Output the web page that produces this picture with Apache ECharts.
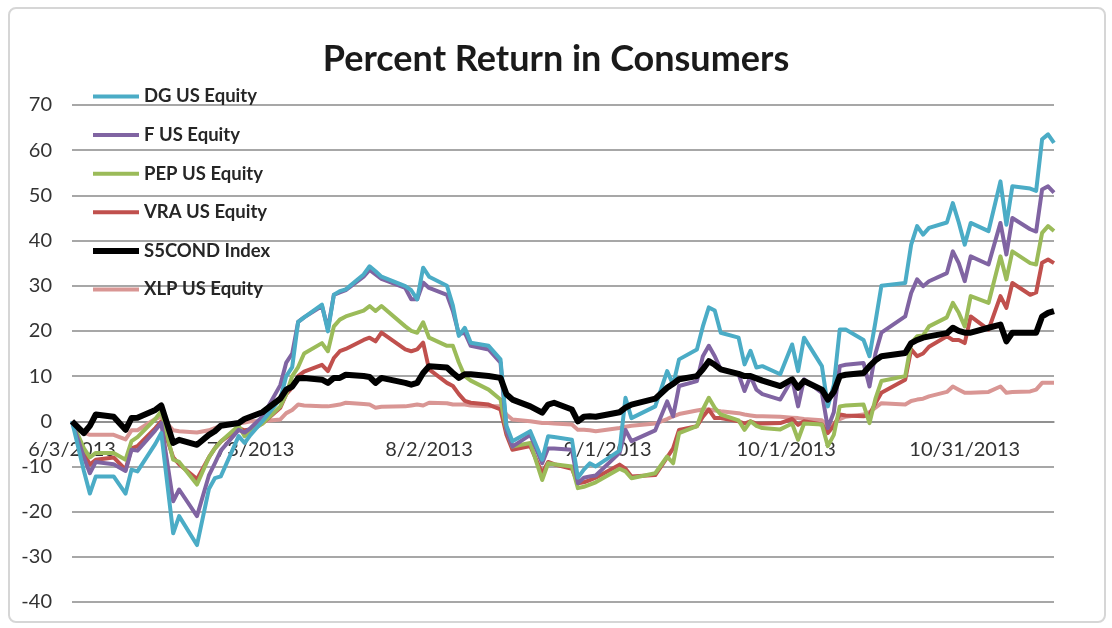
<!DOCTYPE html>
<html lang="en">

<head>
    <meta charset="UTF-8">
    <title>Percent Return in Consumers</title>
    <script src="https://cdn.jsdelivr.net/npm/echarts@6/dist/echarts.min.js"></script>
    <style>
        html, body {
            margin: 0;
            padding: 0;
            background: #fff;
        }

        #frame {
            position: absolute;
            left: 8px;
            top: 7px;
            width: 1094px;
            height: 612px;
            border: 2px solid #d6d6d6;
            border-radius: 8px;
        }

        #chart {
            position: absolute;
            left: 0;
            top: 0;
            width: 1112px;
            height: 628px;
        }
    </style>
</head>

<body>
    <div id="frame"></div>
    <div id="chart"></div>

    <script>
        // trading days (2013)
        var dates = [
            '6/3', '6/5', '6/6', '6/7', '6/10', '6/12', '6/13', '6/14', '6/17', '6/18',
            '6/20', '6/21', '6/24', '6/26', '6/27', '6/28', '7/1', '7/2', '7/3', '7/5',
            '7/8', '7/9', '7/10', '7/11', '7/12', '7/15', '7/16', '7/17', '7/18', '7/19',
            '7/22', '7/23', '7/24', '7/25', '7/29', '7/30', '7/31', '8/1', '8/2', '8/5',
            '8/6', '8/7', '8/8', '8/9', '8/12', '8/14', '8/15', '8/16', '8/19', '8/21',
            '8/22', '8/23', '8/26', '8/27', '8/28', '8/29', '8/30', '9/3', '9/4', '9/5',
            '9/9', '9/11', '9/12', '9/13', '9/16', '9/17', '9/18', '9/19', '9/20', '9/23',
            '9/24', '9/25', '9/26', '9/27', '9/30', '10/2', '10/3', '10/4', '10/7', '10/8',
            '10/9', '10/10', '10/11', '10/14', '10/15', '10/16', '10/17', '10/21', '10/22', '10/23',
            '10/24', '10/25', '10/28', '10/29', '10/30', '10/31', '11/1', '11/4', '11/6', '11/7',
            '11/8', '11/11', '11/12', '11/13', '11/14', '11/15'
        ];

        var dg = [
            0, -11, -16, -12.2, -12.2, -16, -10.7, -11.1, -5, -2.6,
            -24.8, -21, -27.4, -15, -12.6, -12.2, -3.3, -4.8, -3, 0,
            5, 10, 12, 22, 23, 25.8, 19.9, 28, 28.8, 29.2,
            32.5, 34.3, 33.2, 32, 29.9, 29, 27, 34, 32, 30,
            25.6, 18.9, 20.7, 17.4, 16.7, 13.7, -1, -4.4, -2.2, -8.5,
            -3.3, -3.5, -4.1, -12.5, -10.7, -9.3, -10, -6.5, 5.2, 0.7,
            3.3, 11.1, 8.1, 13.7, 15.9, 21, 25.2, 24.5, 19.6, 18.5,
            12.6, 15.6, 11.9, 12.2, 10.4, 17, 11.1, 18.5, 12.2, 3.3,
            8, 20.3, 20.3, 18, 14.4, 22, 30, 30.6, 39.1, 43.2,
            41.3, 42.8, 44, 48.3, 44, 39.1, 43.9, 42.1, 53.1, 43.5,
            52, 51.5, 51, 62.4, 63.5, 61.6
        ];
        var f = [
            0, -8, -11.5, -9, -9.5, -11, -6.3, -6.5, -2, -0.4,
            -17.7, -15.1, -21, -12, -9.3, -6.5, -1.9, -2.5, -1.5, 1,
            8, 13, 15, 22, 23, 25.5, 20.5, 28, 28.5, 29,
            32, 33.5, 32.5, 31.5, 29.5, 27, 27, 30.7, 29.5, 28,
            24.4, 19.3, 19.6, 16.7, 15.9, 13, -2, -5.6, -3, -9.3,
            -6, -6, -6.3, -13.7, -12.5, -12.2, -12, -7, -1.9, -4.4,
            -2, 4.4, 1.1, 7.8, 8.9, 14.4, 16.7, 14.4, 11.5, 10.4,
            6.7, 10, 7, 6, 4.8, 9.3, 3.3, 9.3, 6.3, -1.5,
            2, 12.2, 12.5, 12.9, 7.7, 15, 19.6, 23.2, 28.4, 31.4,
            29.9, 31, 32.8, 37.6, 35, 31, 36.5, 34.7, 43.9, 36.9,
            45, 42.5, 42, 51.3, 52, 50.6
        ];
        var pep = [
            0, -6, -8, -7, -7, -8.5, -4.4, -3.5, 0.5, 2.2,
            -8.5, -9, -14, -8, -6, -4.5, -1, -3.3, -2.2, -0.5,
            3.3, 6, 10, 12, 15, 17.3, 15.5, 21, 22.5, 23.2,
            24.5, 25.5, 24.4, 25.5, 21, 20, 19.6, 21.9, 18.5, 16.7,
            16.7, 13, 10, 9, 7, 4.8, -2, -5.6, -4.8, -13,
            -9.3, -9.5, -10, -14.8, -14.5, -14, -13.5, -10.5, -11.1, -12.6,
            -11.5, -7.8, -9.3, -2.6, -1.1, 2.6, 5.2, 3, 1.5, 0.2,
            -1.9, 0, -1, -1.5, -1.8, -0.5, -4.1, -0.5, -0.7, -5.5,
            -3, 3.3, 3.5, 3.7, -0.4, 5, 8.9, 10, 17.3, 18.8,
            19, 21, 23, 26.2, 24, 21, 27.7, 26.2, 36.5, 31.4,
            37.6, 35, 34.7, 41.7, 43.2, 42.1
        ];
        var vra = [
            0, -7, -9.6, -8.5, -8, -10.7, -6, -5.5, -1.5, 0,
            -8, -9.5, -12.8, -8, -6, -4.5, -1.5, -2, -1.8, -0.5,
            3, 6, 7.5, 10, 11, 12.5, 11.1, 14, 15.5, 16,
            18, 18.5, 17.7, 19.6, 15.9, 15.5, 15.9, 17.4, 11.5, 8.5,
            7.8, 6, 4.5, 4.1, 3.7, 2.6, -3, -6.3, -5.5, -11.5,
            -9, -9.5, -10.5, -13.7, -13.5, -13, -12.5, -9.6, -10.5, -12.2,
            -11.9, -8, -6, -1.9, -1.1, 1, 2.6, 0.7, 0.7, 0,
            -0.5, 0, -0.5, -0.5, -0.4, 0.5, -0.8, 0, -0.7, -2.6,
            -1, 1.5, 1.3, 1.1, 1.5, 4, 6.3, 9.2, 15.9, 14.4,
            15, 16.5, 18.8, 18, 18, 17.3, 23.2, 20.3, 27.7, 25.1,
            30.6, 28, 28.5, 35.1, 35.8, 35
        ];
        var s5cond = [
            0, -2.6, -1, 1.5, 1, -1.9, 0.7, 0.8, 2.5, 3.5,
            -4.8, -4.1, -5.2, -3, -2.2, -1, -0.4, 0.5, 1, 2,
            5, 7, 7.7, 9.5, 9.6, 9.2, 8.5, 9.6, 9.6, 10.3,
            10, 9.8, 8.5, 9.6, 8.5, 8.1, 8.5, 10.7, 12.2, 11.9,
            10.7, 9.6, 10.4, 10.4, 10, 9.6, 6, 4.8, 3.3, 1.9,
            3.7, 4.1, 2.6, 0, 1, 1.1, 1, 2, 3, 3.7,
            5, 7.4, 8.3, 9.3, 10, 11.5, 13.3, 12.5, 11.5, 10.5,
            10, 10, 9.5, 9, 7.8, 9.3, 7.4, 8.9, 7, 4.8,
            6.5, 10, 10.3, 10.7, 12.2, 13.5, 14.4, 15.1, 17.3, 18,
            18.5, 18.8, 19.5, 20.7, 20, 19.6, 19.6, 20.7, 21.4, 17.7,
            19.6, 19.6, 19.6, 23.2, 24, 24.4
        ];
        var xlp = [
            0, -2.5, -3, -3, -3, -4, -2, -2, 0.5, 1,
            -2, -2.2, -2.5, -2, -1.5, -1, -0.5, -0.3, 0, 0,
            0.4, 1.8, 2.5, 3.7, 3.5, 3.3, 3.3, 3.5, 3.7, 4.1,
            3.8, 3.7, 3, 3.2, 3.3, 3.5, 3.7, 3.5, 4.1, 4,
            3.7, 3.7, 3.7, 3.5, 3.3, 3.3, 1.5, 0.4, 0, -0.4,
            -0.4, -0.5, -0.7, -1.9, -1.9, -2, -2.2, -1.5, -1.2, -1,
            -0.5, 0.5, 1.1, 1.6, 2.4, 2.6, 2.6, 2.4, 2.2, 1.8,
            1.5, 1.3, 1.1, 1.1, 1, 0.8, 0.7, 0.5, 0.2, -1,
            -0.5, 0.5, 1, 1.5, 2, 3, 4, 3.7, 4.5, 4.8,
            5, 5.5, 6.5, 7.7, 7, 6.3, 6.3, 6.5, 7.7, 6.3,
            6.5, 6.6, 7, 8.5, 8.5, 8.5
        ];

        var seriesNames = ['DG US Equity', 'F US Equity', 'PEP US Equity', 'VRA US Equity', 'S5COND Index', 'XLP US Equity'];
        var seriesValues = [dg, f, pep, vra, s5cond, xlp];
        var seriesColors = ['#4bacc6', '#8064a2', '#9bbb59', '#c0504d', '#000000', '#d99694'];
        var seriesWidths = [4, 4, 4, 4, 6, 4];

        var yMin = -40, yMax = 70;
        var gridTop = 105, gridBottom = 26, chartHeight = 628;

        // x axis is in days from 6/3/2013
        var start = Date.UTC(2013, 5, 3);
        function dayOffset(md) {
            var p = md.split('/');
            return Math.round((Date.UTC(2013, +p[0] - 1, +p[1]) - start) / 86400000);
        }
        function dayLabel(v) {
            if (v % 30 !== 0) return '';
            var d = new Date(start + v * 86400000);
            return (d.getUTCMonth() + 1) + '/' + d.getUTCDate() + '/' + d.getUTCFullYear();
        }
        var days = dates.map(dayOffset);

        // legend icon: a bar in the middle of a 46x16 box
        function lineIcon(h) {
            var y0 = 8 - h / 2, y1 = 8 + h / 2;
            return 'path://M0,0L0,0M0,16L0,16M0,' + y0 + 'L46,' + y0 + 'L46,' + y1 + 'L0,' + y1 + 'Z';
        }

        // date axis crosses the value axis at 0 (as in Excel)
        var plotHeight = chartHeight - gridTop - gridBottom;
        var xAxisOffset = -plotHeight * (0 - yMin) / (yMax - yMin);

        var chart = echarts.init(document.getElementById('chart'));

        var series = seriesNames.map(function (name, i) {
            return {
                name: name,
                type: 'line',
                symbol: 'none',
                z: 10 - i,
                data: days.map(function (d, j) { return [d, seriesValues[i][j]]; }),
                lineStyle: { color: seriesColors[i], width: seriesWidths[i], join: 'round' },
                itemStyle: { color: seriesColors[i] }
            };
        });
        // black index sits on top like the original
        series[4].z = 20;

        chart.setOption({
            backgroundColor: 'transparent',
            animation: false,
            textStyle: { fontFamily: 'Lato' },
            title: {
                text: 'Percent Return in Consumers',
                left: 'center',
                top: 36,
                textStyle: { fontSize: 36, fontWeight: 'bold', color: '#1a1a1a', fontFamily: 'Lato' }
            },
            legend: {
                orient: 'vertical',
                left: 88,
                top: 82,
                itemWidth: 46,
                itemHeight: 16,
                itemGap: 19.6,
                data: seriesNames.map(function (n, i) {
                    return { name: n, icon: lineIcon(i === 4 ? 6 : 4), itemStyle: { color: seriesColors[i], borderWidth: 0 } };
                }),
                textStyle: { fontSize: 18.5, fontWeight: 'bold', color: '#262626' }
            },
            grid: { left: 72, right: 58, top: gridTop, bottom: gridBottom },
            xAxis: {
                type: 'value',
                min: 0,
                max: 165,
                interval: 30,
                offset: xAxisOffset,
                axisLine: { onZero: false, lineStyle: { color: '#8a8a8a', width: 1.5 } },
                axisTick: { show: false },
                splitLine: { show: false },
                axisLabel: { formatter: dayLabel, margin: 18, fontSize: 20, color: '#333', showMaxLabel: false }
            },
            yAxis: {
                type: 'value',
                min: yMin,
                max: yMax,
                interval: 10,
                axisLine: { show: false, onZero: false },
                axisTick: { show: false },
                splitLine: { lineStyle: { color: '#8a8a8a', width: 1.5 } },
                axisLabel: { fontSize: 20, color: '#333', margin: 20 }
            },
            series: series
        });
    </script>
</body>

</html>
